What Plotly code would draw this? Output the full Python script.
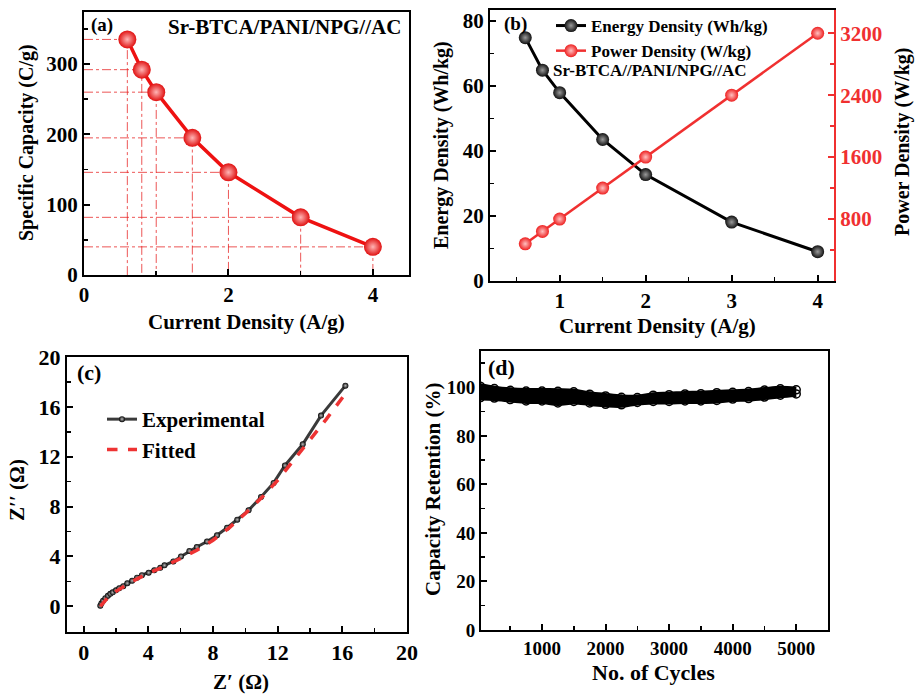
import plotly.graph_objects as go

# ---------------- data ----------------
# (a) specific capacity
cd_a = [0.6, 0.8, 1.0, 1.5, 2.0, 3.0, 4.0]
cap_a = [335, 292, 260, 195, 146, 82, 40]

# (b) energy / power density
cd_b = [0.6, 0.8, 1.0, 1.5, 2.0, 3.0, 4.0]
energy_b = [74.8, 64.8, 57.9, 43.5, 32.7, 18.1, 9.0]
power_b = [480, 640, 800, 1200, 1600, 2400, 3200]

# (c) Nyquist plot
zre_exp = [1.03, 1.10, 1.20, 1.34, 1.50, 1.65, 1.80, 2.00, 2.20, 2.45, 2.70, 3.00,
           3.30, 3.60, 4.02, 4.37, 4.74, 5.00, 5.55, 6.02, 6.54, 7.00, 7.63, 8.25,
           8.87, 9.50, 10.20, 10.97, 11.75, 12.45, 13.55, 14.68, 16.19]
zim_exp = [0.05, 0.25, 0.45, 0.65, 0.85, 1.00, 1.12, 1.28, 1.45, 1.62, 1.85, 2.05,
           2.30, 2.50, 2.70, 2.89, 3.10, 3.29, 3.60, 4.00, 4.44, 4.76, 5.20, 5.70,
           6.30, 6.95, 7.70, 8.77, 9.90, 11.30, 13.00, 15.30, 17.70]
zre_fit = [1.03, 1.5, 2.0, 3.0, 4.0, 5.0, 6.0, 7.0, 8.0, 9.0, 10.0, 11.0, 12.0,
           13.0, 14.0, 15.0, 16.04]
zim_fit = [0.0, 0.7, 1.2, 2.0, 2.65, 3.2, 3.85, 4.5, 5.3, 6.3, 7.45, 8.7, 10.1,
           11.7, 13.4, 15.0, 16.8]

# (d) cycling stability (upper / lower envelope of the scattered points)
cycles_d = [30, 250, 500, 750, 1000, 1250, 1500, 1750, 2000, 2250, 2500, 2750,
            3000, 3250, 3500, 3750, 4000, 4250, 4500, 4750, 5000]
ret_upper = [100.5, 99.5, 98.8, 98.5, 98.5, 98.4, 98.2, 97.2, 96.5, 95.9, 95.8,
             96.8, 97.0, 97.3, 97.4, 97.8, 98.0, 98.3, 98.9, 99.4, 99.0]
ret_lower = [95.8, 95.6, 95.0, 94.4, 94.4, 93.6, 94.2, 93.6, 93.0, 92.8, 93.8,
             94.2, 94.2, 94.4, 94.4, 94.6, 95.2, 95.4, 96.0, 96.8, 97.3]

FONT = "Liberation Serif"
W, H = 915, 695

fig = go.Figure()

# ---------- (a) ----------
gx, gy = [], []
for xv, yv in zip(cd_a, cap_a):
    gx += [0, xv, xv, None]
    gy += [yv, yv, 0, None]
fig.add_trace(go.Scatter(x=gx, y=gy, mode="lines", xaxis="x", yaxis="y",
                         line=dict(color="rgba(230,30,30,0.75)", width=1, dash="dashdot"),
                         showlegend=False, hoverinfo="skip"))
fig.add_trace(go.Scatter(x=cd_a, y=cap_a, mode="lines+markers", xaxis="x", yaxis="y",
                         line=dict(color="#ee1111", width=3.5),
                         marker=dict(size=18, color="#e01010",
                                     gradient=dict(type="radial", color="#ffb5b5"),
                                     line=dict(width=0)),
                         showlegend=False))

# ---------- (b) ----------
fig.add_trace(go.Scatter(x=cd_b, y=energy_b, mode="lines+markers", xaxis="x2", yaxis="y2",
                         name="Energy Density (Wh/kg)", legend="legend",
                         line=dict(color="black", width=3),
                         marker=dict(size=13, color="#111111",
                                     gradient=dict(type="radial", color="#9a9a9a"),
                                     line=dict(width=0))))
fig.add_trace(go.Scatter(x=cd_b, y=power_b, mode="lines+markers", xaxis="x2", yaxis="y3",
                         name="Power Density (W/kg)", legend="legend",
                         line=dict(color="#f03030", width=2.5),
                         marker=dict(size=13, color="#ee2020",
                                     gradient=dict(type="radial", color="#ffc0c0"),
                                     line=dict(width=0))))

# ---------- (c) ----------
fig.add_trace(go.Scatter(x=zre_exp, y=zim_exp, mode="lines+markers", xaxis="x3", yaxis="y4",
                         name="Experimental", legend="legend2",
                         line=dict(color="#3a3a3a", width=3),
                         marker=dict(size=6, color="black",
                                     gradient=dict(type="radial", color="#bbbbbb"),
                                     line=dict(width=0))))
fig.add_trace(go.Scatter(x=zre_fit, y=zim_fit, mode="lines", xaxis="x3", yaxis="y4",
                         name="Fitted", legend="legend2",
                         line=dict(color="#ee3333", width=3.5, dash="dash")))

# ---------- (d) ----------
fig.add_trace(go.Scatter(x=cycles_d, y=ret_upper, mode="lines+markers", xaxis="x4", yaxis="y5",
                         line=dict(color="black", width=6, shape="spline"),
                         marker=dict(size=8, color="black", symbol="circle-open",
                                     line=dict(width=1.5)),
                         showlegend=False, hoverinfo="skip"))
fig.add_trace(go.Scatter(x=cycles_d, y=ret_lower, mode="lines+markers", xaxis="x4", yaxis="y5",
                         fill="tonexty", fillcolor="black",
                         line=dict(color="black", width=6, shape="spline"),
                         marker=dict(size=8, color="black", symbol="circle-open",
                                     line=dict(width=1.5)),
                         showlegend=False, hoverinfo="skip"))


def ax(domain, rng, dtick, minor_dtick, size, anchor, tick0=0, **kw):
    d = dict(domain=domain, range=rng, anchor=anchor, dtick=dtick, tick0=tick0,
             automargin=False,
             showline=True, linecolor="black", linewidth=2, mirror=True,
             ticks="inside", ticklen=6, tickwidth=2, tickcolor="black",
             showgrid=False, zeroline=False,
             tickfont=dict(family=FONT, size=size, color="black", weight="bold"),
             minor=dict(dtick=minor_dtick, tick0=tick0, ticks="inside", ticklen=4,
                        tickwidth=1.5, tickcolor="black", showgrid=False))
    d.update(kw)
    return d


def px(x):
    return x / W


def py(y):
    return 1 - y / H


fig.update_layout(
    template="none",
    width=W, height=H, margin=dict(l=0, r=0, t=0, b=0, autoexpand=False),
    paper_bgcolor="white", plot_bgcolor="white",
    xaxis=ax([px(84), px(409)], [0, 4.5], 2, 1, 21, "y"),
    yaxis=ax([py(275), py(12)], [0, 374], 100, 50, 21, "x"),
    xaxis2=ax([px(490), px(834)], [0.19, 4.19], 1, 0.5, 21, "y2"),
    yaxis2=ax([py(281), py(10)], [0, 83.3], 20, 10, 21, "x2", mirror=False),
    yaxis3=dict(overlaying="y2", side="right", anchor="x2", range=[0, 3500],
                automargin=False,
                tickmode="array", tickvals=[800, 1600, 2400, 3200],
                showline=True, linecolor="#f03030", linewidth=2,
                ticks="inside", ticklen=6, tickwidth=2, tickcolor="#f03030",
                showgrid=False, zeroline=False,
                tickfont=dict(family=FONT, size=21, color="#f03030", weight="bold"),
                minor=dict(tickmode="array", tickvals=[400, 1200, 2000, 2800],
                           ticks="inside", ticklen=4, tickwidth=1.5, tickcolor="#f03030")),
    xaxis3=ax([px(67), px(407)], [-1.03, 20], 4, 2, 22, "y4"),
    yaxis4=ax([py(632), py(357)], [-2.06, 20], 4, 2, 22, "x3"),
    xaxis4=ax([px(481), px(828)], [40, 5500], 1000, 500, 19, "y5"),
    yaxis5=ax([py(630), py(351)], [0, 115], 20, 10, 19, "x4"),
    legend=dict(x=px(551), y=py(8), xanchor="left", yanchor="top",
                traceorder="normal",
                bgcolor="rgba(0,0,0,0)", tracegroupgap=0, itemwidth=30,
                font=dict(family=FONT, size=17, color="black", weight="bold")),
    legend2=dict(x=px(102), y=py(399), xanchor="left", yanchor="top",
                 traceorder="normal",
                 bgcolor="rgba(0,0,0,0)", itemwidth=30,
                 font=dict(family=FONT, size=21, color="black", weight="bold")),
)


def ann(text, x, y, size, xanchor="center", angle=0, color="black"):
    fig.add_annotation(text=text, x=px(x), y=py(y), xref="paper", yref="paper",
                       showarrow=False, xanchor=xanchor, yanchor="middle",
                       textangle=angle,
                       font=dict(family=FONT, size=size, color=color, weight="bold"))


# panel labels / inner texts
ann("(a)", 89, 25, 19, "left")
ann("Sr-BTCA/PANI/NPG//AC", 403, 27, 21, "right")
ann("(b)", 502, 24, 19, "left")
ann("Sr-BTCA//PANI/NPG//AC", 551, 70, 17, "left")
ann("(c)", 75, 372, 22, "left")
ann("(d)", 486, 367, 22, "left")

# axis titles
ann("Current Density (A/g)", 246, 322, 21)
ann("Specific Capacity (C/g)", 26, 143, 20, angle=-90)
ann("Current Density (A/g)", 657, 326, 21)
ann("Energy Density (Wh/kg)", 441, 145, 20, angle=-90)
ann("Power Density (W/kg)", 902, 142, 20, angle=-90)
ann("Z′ (Ω)", 241, 682, 21)
ann("Z′′ (Ω)", 17, 490, 21, angle=-90)
ann("No. of Cycles", 653, 672, 22)
ann("Capacity Retention (%)", 433, 490, 21, angle=-90)

fig.write_html("out.html",
               config={"displayModeBar": False, "staticPlot": True},
               post_script="document.body.style.margin='0';"
                           "document.body.style.overflow='hidden';")
